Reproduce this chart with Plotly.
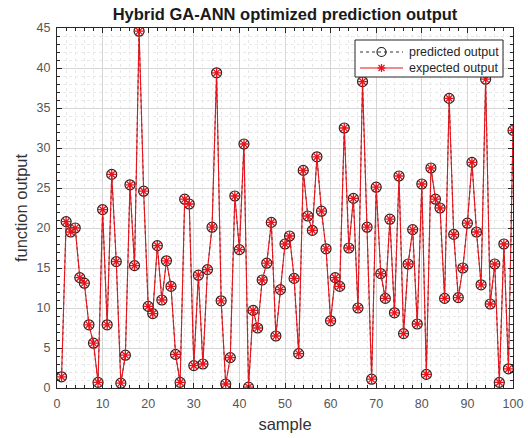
import plotly.graph_objects as go

samples = list(range(1, 101))
expected = [1.4, 20.8, 19.5, 20.0, 13.8, 13.1, 7.9, 5.6, 0.7, 22.3,
            7.9, 26.7, 15.8, 0.6, 4.1, 25.4, 15.3, 44.6, 24.6, 10.2,
            9.3, 17.8, 11.0, 15.9, 12.7, 4.2, 0.7, 23.6, 23.0, 2.8,
            14.1, 3.0, 14.8, 20.1, 39.4, 10.9, 0.5, 3.8, 24.0, 17.3,
            30.5, 0.1, 9.7, 7.5, 13.5, 15.6, 20.7, 6.5, 12.3, 18.0,
            19.0, 13.7, 4.3, 27.2, 21.5, 19.7, 28.9, 22.1, 17.4, 8.4,
            13.8, 12.7, 32.5, 17.5, 23.7, 10.0, 38.3, 20.1, 1.1, 25.1,
            14.3, 11.2, 21.1, 9.4, 26.5, 6.8, 15.5, 19.8, 8.0, 25.5,
            1.7, 27.5, 23.6, 22.5, 11.2, 36.2, 19.2, 11.3, 15.0, 20.6,
            28.2, 19.5, 12.9, 38.6, 10.5, 15.5, 0.7, 18.0, 2.4, 32.2]
predicted = [1.4, 20.8, 19.5, 20.0, 13.8, 13.1, 7.9, 5.6, 0.7, 22.3,
             7.9, 26.7, 15.8, 0.6, 4.1, 25.4, 15.3, 44.6, 24.6, 10.2,
             9.3, 17.8, 11.0, 15.9, 12.7, 4.2, 0.7, 23.6, 23.0, 2.8,
             14.1, 3.0, 14.8, 20.1, 39.4, 10.9, 0.5, 3.8, 24.0, 17.3,
             30.5, 0.1, 9.7, 7.5, 13.5, 15.6, 20.7, 6.5, 12.3, 18.0,
             19.0, 13.7, 4.3, 27.2, 21.5, 19.7, 28.9, 22.1, 17.4, 8.4,
             13.8, 12.7, 32.5, 17.5, 23.7, 10.0, 38.3, 20.1, 1.1, 25.1,
             14.3, 11.2, 21.1, 9.4, 26.5, 6.8, 15.5, 19.8, 8.0, 25.5,
             1.7, 27.5, 23.6, 22.5, 11.2, 36.2, 19.2, 11.3, 15.0, 20.6,
             28.2, 19.5, 12.9, 38.6, 10.5, 15.5, 0.7, 18.0, 2.4, 32.2]
series_names = ["predicted output", "expected output"]

FONT = "Liberation Sans, Arial, sans-serif"
TICKC = "#555555"
PRED_C = "#222222"
EXP_C = "#e8141b"

fig = go.Figure()
fig.add_trace(go.Scatter(
    x=samples, y=predicted, name=series_names[0], mode="lines+markers", showlegend=False,
    line=dict(color="#333333", width=1, dash="dot"),
    marker=dict(symbol="circle-open", size=10, color=PRED_C, line=dict(width=1.2)),
))
fig.add_trace(go.Scatter(
    x=samples, y=expected, name=series_names[1], mode="lines+markers", showlegend=False,
    line=dict(color=EXP_C, width=1.1),
    marker=dict(symbol="asterisk-open", size=8, color=EXP_C, line=dict(width=1.3, color=EXP_C)),
))

axis_common = dict(
    showline=True, linecolor="#262626", linewidth=1, mirror="ticks",
    ticks="inside", ticklen=5, tickcolor="#262626",
    showgrid=True, gridcolor="#d6d6d6", gridwidth=1,
    zeroline=False, automargin=False,
    tickfont=dict(family=FONT, size=12.5, color=TICKC),
)

fig.update_xaxes(
    range=[0, 100], dtick=10, tick0=0, ticklabelstandoff=4,
    minor=dict(dtick=2, showgrid=True, gridcolor="#e8e8e8", griddash="dot",
               ticks="inside", ticklen=3, tickcolor="#262626"),
    title=dict(text="sample", font=dict(family=FONT, size=16.5, color="#333333"), standoff=8),
    **axis_common,
)
fig.update_yaxes(
    range=[0, 45], dtick=5, tick0=0, ticklabelstandoff=3,
    minor=dict(dtick=1, showgrid=True, gridcolor="#e8e8e8", griddash="dot",
               ticks="inside", ticklen=3, tickcolor="#262626"),
    title=dict(text="function output", font=dict(family=FONT, size=16.5, color="#333333"), standoff=4),
    **axis_common,
)

# Legend box (MATLAB-style, drawn as layout decoration in paper coords)
L, R, T, B = 57, 513, 28, 388
def px(xp):
    return (xp - L) / (R - L)
def py(yp):
    return (B - yp) / (B - T)

shapes = [dict(type="rect", xref="paper", yref="paper",
               x0=px(355), x1=px(503), y0=py(77), y1=py(40),
               line=dict(color="#262626", width=1), fillcolor="white", layer="above")]
rows = [52, 68]
styles = [dict(color="#333333", width=1, dash="dot"), dict(color=EXP_C, width=1.1)]
annotations = []
for name, row, st in zip(series_names, rows, styles):
    shapes.append(dict(type="line", xref="paper", yref="paper",
                       x0=px(360), x1=px(403), y0=py(row), y1=py(row), line=st, layer="above"))
    annotations.append(dict(text=name, xref="paper", yref="paper", x=px(407), y=py(row),
                            xanchor="left", yanchor="middle", showarrow=False,
                            font=dict(family=FONT, size=12.5, color="#262626")))
# circle glyph
shapes.append(dict(type="circle", xref="paper", yref="paper", xsizemode="pixel", ysizemode="pixel",
                   xanchor=px(381.5), yanchor=py(rows[0]), x0=-4.5, x1=4.5, y0=-4.5, y1=4.5,
                   line=dict(color=PRED_C, width=1.2), fillcolor="rgba(0,0,0,0)", layer="above"))
# asterisk glyph
for dx, dy in [(4, 0), (0, 4), (3, 3), (3, -3)]:
    shapes.append(dict(type="line", xref="paper", yref="paper", xsizemode="pixel", ysizemode="pixel",
                       xanchor=px(381.5), yanchor=py(rows[1]), x0=-dx, x1=dx, y0=-dy, y1=dy,
                       line=dict(color=EXP_C, width=1.3), layer="above"))

fig.update_layout(
    width=528, height=438,
    margin=dict(l=L, r=528 - R, t=T, b=438 - B),
    paper_bgcolor="white", plot_bgcolor="white",
    title=dict(text="<b>Hybrid GA-ANN optimized prediction output</b>",
               font=dict(family=FONT, size=16.5, color="#1a1a1a"),
               x=(L + R) / 2 / 528, xanchor="center", y=1 - 14 / 438, yanchor="middle"),
    shapes=shapes, annotations=annotations,
    showlegend=False,
)

fig.write_html("out.html")
